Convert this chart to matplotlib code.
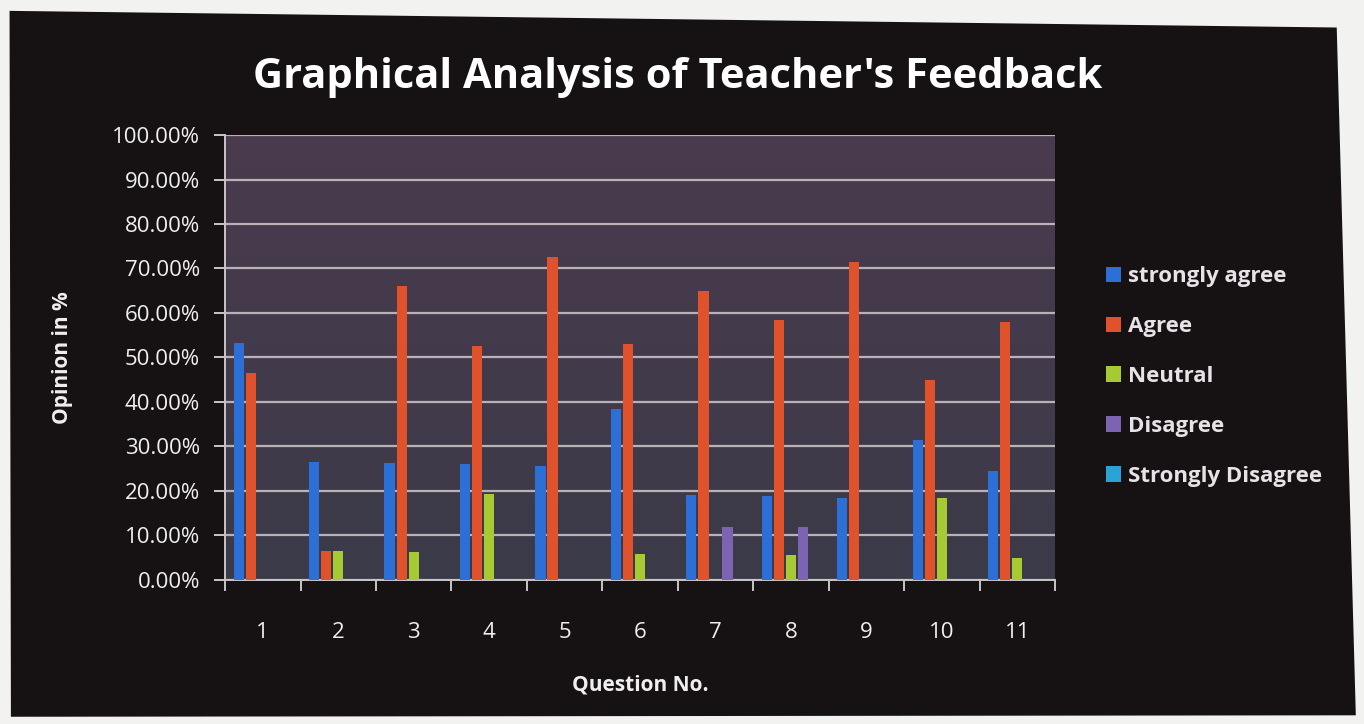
import matplotlib
matplotlib.use('Agg')
import matplotlib.pyplot as plt
import numpy as np
from matplotlib.patches import Polygon
from matplotlib.colors import LinearSegmentedColormap

questions = ['1', '2', '3', '4', '5', '6', '7', '8', '9', '10', '11']
series = ['strongly agree', 'Agree', 'Neutral', 'Disagree', 'Strongly Disagree']
strongly_agree = [53.3, 26.5, 26.3, 26.0, 25.5, 38.5, 19.0, 18.8, 18.5, 31.5, 24.5]
agree = [46.5, 6.5, 66.0, 52.5, 72.5, 53.0, 65.0, 58.5, 71.5, 45.0, 58.0]
neutral = [0, 6.5, 6.2, 19.3, 0, 5.8, 0, 5.5, 0, 18.5, 5.0]
disagree = [0, 0, 0, 0, 0, 0, 12.0, 12.0, 0, 0, 0]
strongly_disagree = [0, 0, 0, 0, 0, 0, 0, 0, 0, 0, 0]
yticks = [0, 10, 20, 30, 40, 50, 60, 70, 80, 90, 100]

colors = ['#2c6fd6', '#e0522c', '#a6c934', '#7c64b2', '#2aa2d4']
font = 'Open Sans'
txt = '#f0eef0'

fig = plt.figure(figsize=(13.64, 7.24), dpi=100, facecolor='#f2f2f0')
# dark slide in the photo
fig.patches.append(Polygon([[0.007, 0.985], [0.980, 0.962], [0.994, 0.012], [0.008, 0.010]],
                           closed=True, transform=fig.transFigure, facecolor='#161214',
                           edgecolor='none', zorder=-10))

ax = fig.add_axes([0.165, 0.199, 0.6085, 0.6145])
ax.set_facecolor('none')
grad = np.linspace(0, 1, 100).reshape(-1, 1)
cmap = LinearSegmentedColormap.from_list('bg', ['#3b3b48', '#4a3a4e'])
ax.imshow(grad, aspect='auto', cmap=cmap, extent=[0, 1, 0, 1], transform=ax.transAxes,
          origin='lower', zorder=0)

x = np.arange(len(questions))
data = [strongly_agree, agree, neutral, disagree, strongly_disagree]
step = 0.16
for i, (name, vals) in enumerate(zip(series, data)):
    ax.bar(x + (i - 2) * step, vals, width=0.135, color=colors[i], label=name, zorder=3)

ax.set_xlim(-0.5, len(questions) - 0.5)
ax.set_ylim(0, 100)
ax.set_yticks(yticks)
ax.set_yticklabels([f'{v:.2f}%' for v in yticks], fontfamily=font, fontsize=16, color=txt)
ax.yaxis.grid(True, color='#b8b2b8', linewidth=1.6, zorder=1)
ax.set_axisbelow(True)

ax.set_xticks(np.arange(len(questions) + 1) - 0.5, minor=False)
ax.set_xticklabels([])
ax.set_xticks(x, minor=True)
ax.set_xticklabels(questions, minor=True, fontfamily=font, fontsize=16, color=txt)
ax.tick_params(axis='x', which='minor', length=0, pad=30)
ax.tick_params(axis='x', which='major', length=8, color='#c8c4c8', width=1.4, direction='out')
ax.tick_params(axis='y', length=8, color='#c8c4c8', width=1.4, pad=10)

for s in ['top', 'right']:
    ax.spines[s].set_visible(False)
for s in ['left', 'bottom']:
    ax.spines[s].set_color('#c8c4c8')
    ax.spines[s].set_linewidth(1.4)

ax.set_xlabel('Question No.', fontfamily=font, fontsize=15, fontweight='bold', color=txt, labelpad=23)
ax.set_ylabel('Opinion in %', fontfamily=font, fontsize=15, fontweight='bold', color=txt, labelpad=28)

fig.text(0.497, 0.893, "Graphical Analysis of Teacher's Feedback", ha='center', va='center',
         fontfamily=font, fontsize=30, fontweight='bold', color='white')

leg = ax.legend(loc='upper left', bbox_to_anchor=(1.037, 0.75), frameon=False, handlelength=0.7,
                handleheight=0.7, handletextpad=0.3, labelspacing=1.3,
                prop={'family': font, 'size': 16, 'weight': 'bold'})
for t in leg.get_texts():
    t.set_color('#e6e2e6')

fig.savefig('out.png', dpi=100, facecolor=fig.get_facecolor())
